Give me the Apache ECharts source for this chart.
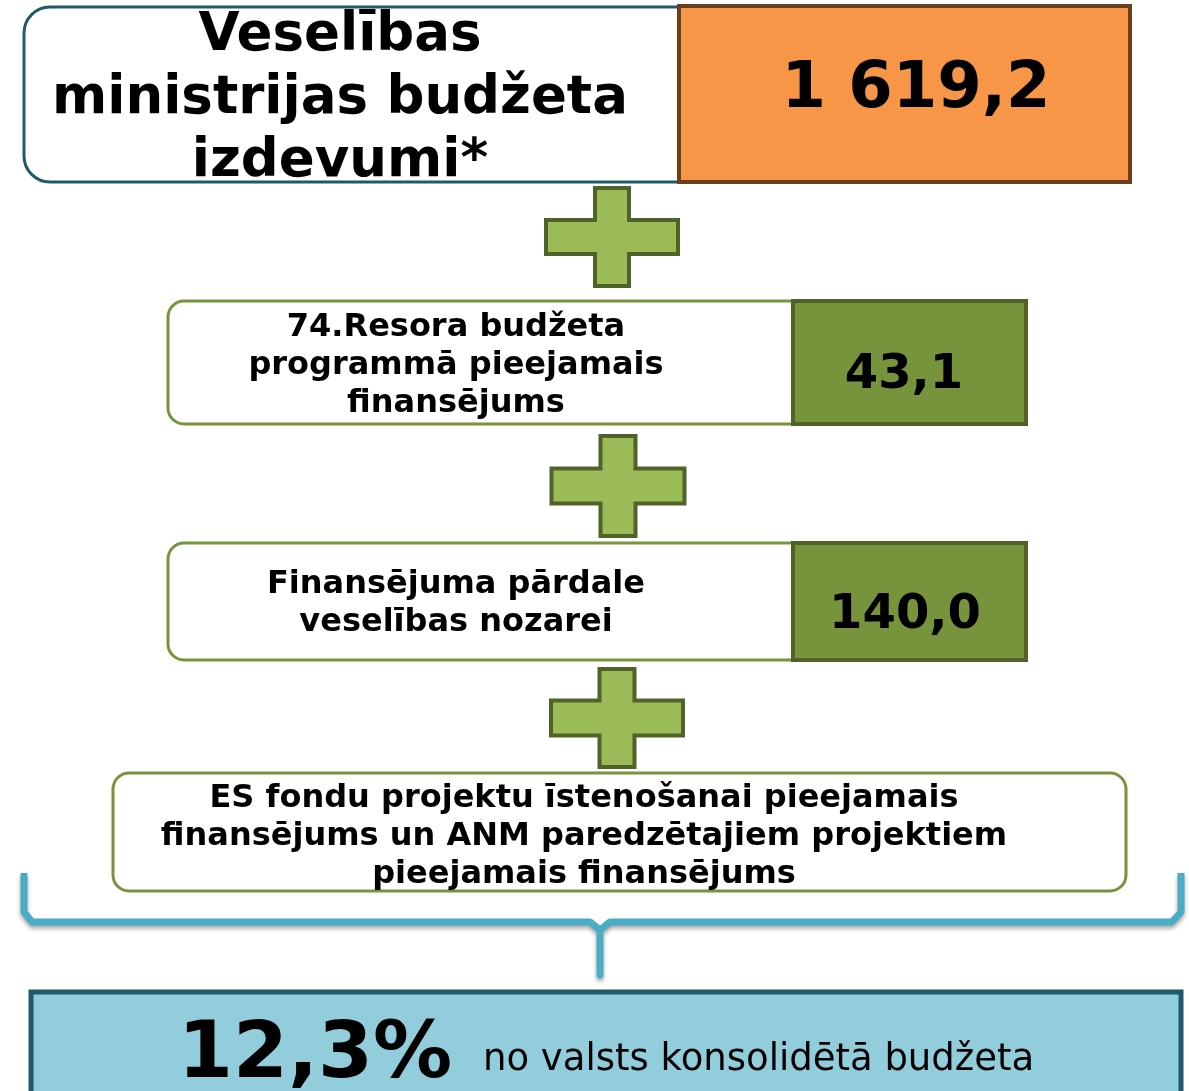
<!DOCTYPE html>
<html>
<head>
<meta charset="utf-8">
<script src="https://cdn.jsdelivr.net/npm/echarts@6/dist/echarts.min.js"></script>
<style>
html, body { margin: 0; padding: 0; background: #fff; }
#main { width: 1189px; height: 1091px; }
</style>
</head>
<body>
<div id="main"></div>
<script>
// dati (milj. EUR)
var labels = [
    'Veselības\nministrijas budžeta\nizdevumi*',
    '74.Resora budžeta\nprogrammā pieejamais\nfinansējums',
    'Finansējuma pārdale\nveselības nozarei',
    'ES fondu projektu īstenošanai pieejamais\nfinansējums un ANM paredzētajiem projektiem\npieejamais finansējums'
];
var values = [1619.2, 43.1, 140.0];
var sharePct = 12.3;
var shareText = 'no valsts konsolidētā budžeta';

function fmt(v) {
    var s = v.toFixed(1).split('.');
    var int = s[0].replace(/\B(?=(\d{3})+(?!\d))/g, ' ');
    return int + ',' + s[1];
}

var FONT = 'Verdana, "DejaVu Sans", sans-serif';
var GREEN_LIGHT = '#9bbb59', GREEN = '#77933c', GREEN_DARK = '#4f6228';

function plus(cx, cy, w, h, t) {
    var hw = w / 2, hh = h / 2, ht = t / 2;
    return {
        type: 'polygon',
        shape: { points: [
            [cx - ht, cy - hh], [cx + ht, cy - hh], [cx + ht, cy - ht], [cx + hw, cy - ht],
            [cx + hw, cy + ht], [cx + ht, cy + ht], [cx + ht, cy + hh], [cx - ht, cy + hh],
            [cx - ht, cy + ht], [cx - hw, cy + ht], [cx - hw, cy - ht], [cx - ht, cy - ht]
        ] },
        style: { fill: GREEN_LIGHT, stroke: GREEN_DARK, lineWidth: 4 }
    };
}

function text(x, y, str, size, weight, lh) {
    return {
        type: 'text', x: x, y: y,
        style: {
            text: str, fill: '#000', font: weight + ' ' + size + 'px ' + FONT,
            align: 'center', verticalAlign: 'middle', lineHeight: lh || size * 1.2
        }
    };
}

var chart = echarts.init(document.getElementById('main'));
var elements = [];

// 1. bloks
elements.push({
    type: 'rect', shape: { x: 24, y: 7, width: 680, height: 175, r: [26, 0, 0, 26] },
    style: { fill: '#fff', stroke: '#215968', lineWidth: 3 }
});
elements.push({
    type: 'rect', shape: { x: 679, y: 6, width: 451, height: 176 },
    style: { fill: '#f79646', stroke: '#6b3f1e', lineWidth: 4 }
});
elements.push(text(340, 99, labels[0], 53, 'bold', 63));
elements.push(text(916, 90, fmt(values[0]), 64, 'bold'));

elements.push(plus(612, 237, 132, 98, 34));

// 2. bloks
elements.push({
    type: 'rect', shape: { x: 168, y: 301, width: 640, height: 123, r: [16, 0, 0, 16] },
    style: { fill: '#fff', stroke: GREEN, lineWidth: 3 }
});
elements.push({
    type: 'rect', shape: { x: 793, y: 301, width: 233, height: 123 },
    style: { fill: GREEN, stroke: GREEN_DARK, lineWidth: 4 }
});
elements.push(text(456, 366, labels[1], 32, 'bold', 38));
elements.push(text(904, 376, fmt(values[1]), 48, 'bold'));

elements.push(plus(618, 486, 133, 100, 35));

// 3. bloks
elements.push({
    type: 'rect', shape: { x: 168, y: 543, width: 640, height: 117, r: [16, 0, 0, 16] },
    style: { fill: '#fff', stroke: GREEN, lineWidth: 3 }
});
elements.push({
    type: 'rect', shape: { x: 793, y: 543, width: 233, height: 117 },
    style: { fill: GREEN, stroke: GREEN_DARK, lineWidth: 4 }
});
elements.push(text(456, 604, labels[2], 32, 'bold', 38));
elements.push(text(905, 616, fmt(values[2]), 48, 'bold'));

elements.push(plus(617, 718, 132, 98, 35));

// 4. bloks
elements.push({
    type: 'rect', shape: { x: 113, y: 773, width: 1013, height: 118, r: 16 },
    style: { fill: '#fff', stroke: GREEN, lineWidth: 3 }
});
elements.push(text(584, 837, labels[3], 32, 'bold', 38));

// figūriekava
elements.push({
    type: 'polyline',
    shape: { points: [
        [24, 873], [24, 912], [32, 922], [590, 922], [600, 930], [600, 975],
        [600, 930], [610, 922], [1172, 922], [1181, 912], [1181, 873]
    ] },
    style: {
        stroke: '#4bacc6', lineWidth: 7, fill: null, lineJoin: 'round',
        shadowColor: 'rgba(0,0,0,0.35)', shadowBlur: 4, shadowOffsetY: 3
    }
});

// kopsavilkums
elements.push({
    type: 'rect', shape: { x: 31, y: 992, width: 1150, height: 130 },
    style: { fill: '#92cddc', stroke: '#215968', lineWidth: 5 }
});
elements.push({
    type: 'text', x: 178, y: 1056,
    style: {
        text: fmt(sharePct) + '%', fill: '#000', font: 'bold 79px ' + FONT,
        align: 'left', verticalAlign: 'middle'
    }
});
elements.push({
    type: 'text', x: 483, y: 1060,
    style: {
        text: shareText, fill: '#000', font: 'normal 37px ' + FONT,
        align: 'left', verticalAlign: 'middle'
    }
});

chart.setOption({
    backgroundColor: '#fff',
    graphic: { elements: elements }
});
</script>
</body>
</html>
